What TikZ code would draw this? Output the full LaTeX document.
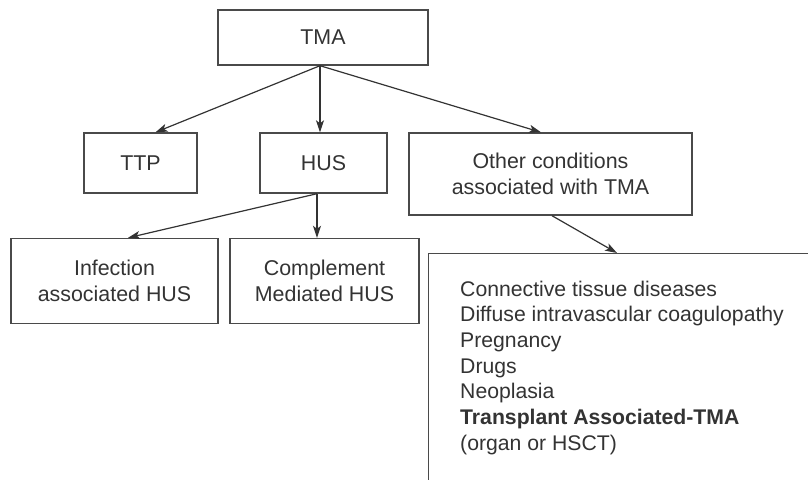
\documentclass[tikz,border=0pt]{standalone}
\usepackage{fontspec}
\setmainfont{Liberation Sans}
\usetikzlibrary{arrows.meta,calc}
\definecolor{ink}{HTML}{333333}
\definecolor{edge}{HTML}{4A4A4A}
\begin{document}
\begin{tikzpicture}[x=1pt,y=-1pt,
  box/.style={draw=edge,line width=1.4pt,text=ink,inner sep=0pt,align=center,
    font=\fontsize{21.4}{25.5}\selectfont},
  arr/.style={draw=ink,line width=1.2pt,-{Stealth[length=12pt,width=8pt,inset=3pt]}}]
\useasboundingbox (0,0) rectangle (808,479);
\node[box,minimum width=210pt,minimum height=55pt] (tma) at (323,37.5) {TMA};
\node[box,minimum width=113pt,minimum height=60pt] (ttp) at (140.5,163) {TTP};
\node[box,minimum width=127pt,minimum height=60pt] (hus) at (323.5,163) {HUS};
\node[box,minimum width=283pt,minimum height=82pt] (other) at (550.5,174) {Other conditions\\associated with TMA};
\node[box,minimum width=207pt,minimum height=85pt] (inf) at (114.5,281) {Infection\\associated HUS};
\node[box,minimum width=189pt,minimum height=85pt] (comp) at (324.5,281) {Complement\\Mediated HUS};
\begin{scope}
\clip (0,0) rectangle (808,479);
\node[box,anchor=north west,minimum width=500pt,minimum height=300pt] (list) at (428,253) {};
\end{scope}
\node[anchor=north west,inner sep=0pt,align=left,text=ink,
  font=\fontsize{21.2}{25.7}\selectfont] (items) at (460,280.5)
  {Connective tissue diseases\\Diffuse intravascular coagulopathy\\Pregnancy\\Drugs\\Neoplasia\\\textbf{Transplant Associated-TMA}\\(organ or HSCT)};
\draw[arr] ($(tma.south)+(-3,0)$) -- ($(ttp.north)+(15,0)$);
\draw[arr] ($(tma.south)+(-3,0)$) -- ($(hus.north)+(-3.5,0)$);
\draw[arr] ($(tma.south)+(-3,0)$) -- ($(other.north)+(-9.5,0)$);
\draw[arr] ($(hus.south)+(-6.5,0)$) -- ($(inf.north)+(13.5,0)$);
\draw[arr] ($(hus.south)+(-6.5,0)$) -- ($(comp.north)+(-7.5,0)$);
\draw[arr] ($(other.south)+(1.5,0)$) -- ($(list.north west)+(189,0)$);
\end{tikzpicture}
\end{document}
